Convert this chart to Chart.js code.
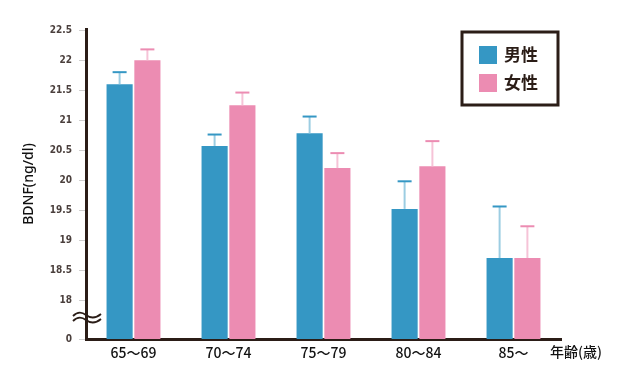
<!DOCTYPE html>
<html><head><meta charset="utf-8">
<script src="https://cdn.jsdelivr.net/npm/chart.js@4/dist/chart.umd.min.js"></script>
<style>html,body{margin:0;padding:0;background:#fff;}#wrap{width:640px;height:380px;}</style>
</head><body><div id="wrap"><canvas id="c" width="640" height="380"></canvas></div>
<script>
const categories = ['65〜69', '70〜74', '75〜79', '80〜84', '85〜'];
const seriesNames = ['男性', '女性'];
const maleMean = [21.6, 20.57, 20.78, 19.52, 18.7];
const maleErr = [0.2, 0.19, 0.28, 0.46, 0.86];
const femaleMean = [22.0, 21.25, 20.2, 20.23, 18.7];
const femaleErr = [0.18, 0.21, 0.25, 0.42, 0.53];
const yTickValues = [17.35, 18, 18.5, 19, 19.5, 20, 20.5, 21, 21.5, 22, 22.5];
const yTickLabels = ['0', '18', '18.5', '19', '19.5', '20', '20.5', '21', '21.5', '22', '22.5'];
const yTitle = 'BDNF(ng/dl)';
const xTitle = '年齢(歳)';

const BLUE = '#3597c4', PINK = '#ec8cb2';
const BLUE_L = '#9ccde2', PINK_L = '#f6c3d7';
const DARK = '#2b1d17';

const errPlugin = {
  id: 'err',
  afterDatasetsDraw(chart) {
    const ctx = chart.ctx, ys = chart.scales.y;
    chart.data.datasets.forEach((ds, i) => {
      const meta = chart.getDatasetMeta(i);
      meta.data.forEach((bar, j) => {
        const top = ys.getPixelForValue(ds.data[j] + ds.err[j]);
        ctx.save();
        ctx.strokeStyle = ds.errLight; ctx.lineWidth = 2;
        ctx.beginPath(); ctx.moveTo(bar.x, bar.y); ctx.lineTo(bar.x, top); ctx.stroke();
        ctx.strokeStyle = ds.backgroundColor; ctx.lineWidth = 2;
        ctx.beginPath(); ctx.moveTo(bar.x - 7, top); ctx.lineTo(bar.x + 7, top); ctx.stroke();
        ctx.restore();
      });
    });
  }
};

const decoPlugin = {
  id: 'deco',
  afterDraw(chart) {
    const ctx = chart.ctx, a = chart.chartArea;
    ctx.save();
    // break mark
    ctx.strokeStyle = DARK; ctx.lineWidth = 1.8;
    [0, 5].forEach(dy => {
      const y0 = a.bottom - 24 + dy;
      ctx.beginPath();
      ctx.moveTo(a.left - 13, y0 + 1);
      ctx.bezierCurveTo(a.left - 8, y0 - 4, a.left - 4, y0 - 3, a.left, y0);
      ctx.bezierCurveTo(a.left + 4, y0 + 3, a.left + 9, y0 + 4, a.left + 15, y0 - 1);
      ctx.stroke();
    });
    // x title
    ctx.fillStyle = '#111';
    ctx.font = '500 14px "Noto Sans CJK JP", sans-serif';
    ctx.textAlign = 'left'; ctx.textBaseline = 'middle';
    ctx.fillText(xTitle, a.right - 11, a.bottom + 13);
    // legend
    const bx = a.right - 99, by = a.top + 3, bw = 96, bh = 73;
    ctx.strokeStyle = DARK; ctx.lineWidth = 3;
    ctx.strokeRect(bx, by, bw, bh);
    chart.data.datasets.forEach((ds, i) => {
      const y = by + 14 + i * 28;
      ctx.fillStyle = ds.backgroundColor;
      ctx.fillRect(bx + 17, y, 18, 18);
      ctx.fillStyle = DARK;
      ctx.font = 'bold 17px "Noto Sans CJK JP", sans-serif';
      ctx.textBaseline = 'middle';
      ctx.fillText(ds.label, bx + 42, y + 9);
    });
    ctx.restore();
  }
};

new Chart(document.getElementById('c'), {
  type: 'bar',
  data: {
    labels: categories,
    datasets: [
      { label: seriesNames[0], data: maleMean, err: maleErr, backgroundColor: BLUE, errLight: BLUE_L,
        barPercentage: 0.94, categoryPercentage: 0.585 },
      { label: seriesNames[1], data: femaleMean, err: femaleErr, backgroundColor: PINK, errLight: PINK_L,
        barPercentage: 0.94, categoryPercentage: 0.585 }
    ]
  },
  options: {
    responsive: false,
    animation: false,
    layout: { padding: { left: 0, right: 79, top: 29, bottom: 0 } },
    plugins: { legend: { display: false }, tooltip: { enabled: false } },
    scales: {
      x: {
        offset: true,
        grid: { display: false, drawTicks: false },
        border: { color: DARK, width: 3 },
        ticks: { color: '#111', padding: 5, font: { family: '"Noto Sans CJK JP", sans-serif', size: 14, weight: '500' } },
        afterFit(s) { s.height = 41; }
      },
      y: {
        min: 17.35, max: 22.52,
        afterBuildTicks(s) { s.ticks = yTickValues.map(v => ({ value: v })); },
        grid: { drawOnChartArea: false, tickLength: 7, color: '#d0d0d0', tickColor: '#d0d0d0' },
        border: { color: DARK, width: 3 },
        ticks: {
          color: '#4a3f3c', padding: 7, autoSkip: false,
          font: { family: '"DejaVu Sans Condensed", "Liberation Sans Narrow", sans-serif', size: 10, weight: 'bold' },
          callback(v, i) { return yTickLabels[i]; }
        },
        title: { display: true, text: yTitle, color: '#111', padding: { top: 21, bottom: 0 },
          font: { family: '"Noto Sans", sans-serif', size: 14, weight: '500' } },
        afterFit(s) { s.width = 86; }
      }
    }
  },
  plugins: [errPlugin, decoPlugin]
});
</script></body></html>
